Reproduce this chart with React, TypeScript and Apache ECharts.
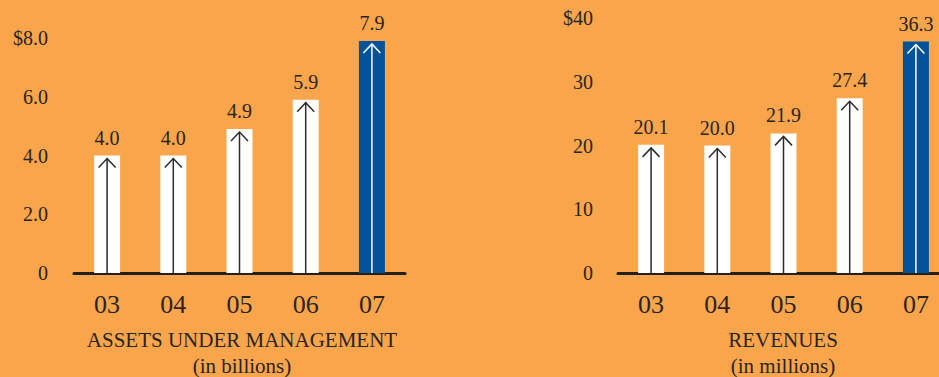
import React, { useEffect, useRef } from "react";
import * as echarts from "echarts";

const years = ["03", "04", "05", "06", "07"];
const assetsUnderManagement = [4.0, 4.0, 4.9, 5.9, 7.9];
const revenues = [20.1, 20.0, 21.9, 27.4, 36.3];
const highlightIndex = 4;

const BG = "#F9A54B";
const BLUE = "#03529A";
const INK = "#2A2421";
const FONT = "'Liberation Serif', 'Times New Roman', serif";

const barColor = (i: number) => (i === highlightIndex ? BLUE : "#FFFFFF");

// Arrow drawn up the middle of each bar, from the baseline to just below the top
const arrowRender = (params: any, api: any) => {
  const idx = api.value(0);
  const val = api.value(1);
  const base = api.coord([idx, 0]);
  const top = api.coord([idx, val]);
  const x = base[0];
  const tipY = top[1] + 3;
  const color = params.dataIndex === highlightIndex ? "#FFFFFF" : "#2B2B2B";
  return {
    type: "group",
    children: [
      {
        type: "line",
        shape: { x1: x, y1: base[1], x2: x, y2: tipY },
        style: { stroke: color, lineWidth: 1.5 },
      },
      {
        type: "polyline",
        shape: { points: [[x - 8.5, tipY + 9], [x, tipY], [x + 8.5, tipY + 9]] },
        style: { stroke: color, lineWidth: 1.5, fill: "none" },
      },
    ],
  };
};

export default function App() {
  const ref = useRef<HTMLDivElement>(null);

  useEffect(() => {
    if (!ref.current) return;
    const chart = echarts.init(ref.current, null, { renderer: "svg" });

    const xAxisBase = {
      type: "category" as const,
      data: years,
      axisLine: { show: true, lineStyle: { color: "#231F20", width: 3 } },
      axisTick: { show: false },
      axisLabel: { color: INK, fontFamily: FONT, fontSize: 26, margin: 18 },
    };
    const yAxisBase = {
      type: "value" as const,
      splitLine: { show: false },
      axisLine: { show: false },
      axisTick: { show: false },
    };

    const barSeries = (data: number[], axis: number, fmt: (v: number) => string) => ({
      type: "bar",
      xAxisIndex: axis,
      yAxisIndex: axis,
      barWidth: 26,
      data: data.map((v, i) => ({ value: v, itemStyle: { color: barColor(i) } })),
      label: {
        show: true,
        position: "top",
        distance: 8,
        color: INK,
        fontFamily: FONT,
        fontSize: 20,
        formatter: (p: any) => fmt(p.value),
      },
    });

    const arrowSeries = (data: number[], axis: number) => ({
      type: "custom",
      xAxisIndex: axis,
      yAxisIndex: axis,
      renderItem: arrowRender,
      data: data.map((v, i) => [i, v]),
      z: 5,
    });

    const titleText = (text: string, x: number, y: number) => ({
      type: "text",
      x,
      y,
      style: {
        text,
        fill: INK,
        font: `21px ${FONT}`,
        textAlign: "center",
        textVerticalAlign: "middle",
      },
    });

    chart.setOption({
      animation: false,
      backgroundColor: BG,
      grid: [
        { left: 74, top: 38, width: 331, height: 235 },
        // the revenue axis runs on past the right edge of the page
        { left: 618, top: 18, width: 331, height: 255 },
      ],
      xAxis: [
        { ...xAxisBase, gridIndex: 0 },
        { ...xAxisBase, gridIndex: 1 },
      ],
      yAxis: [
        {
          ...yAxisBase,
          gridIndex: 0,
          min: 0,
          max: 8,
          interval: 2,
          axisLabel: {
            color: INK,
            fontFamily: FONT,
            fontSize: 20,
            margin: 26,
            formatter: (v: number) => (v === 0 ? "0" : v === 8 ? "$8.0" : v.toFixed(1)),
          },
        },
        {
          ...yAxisBase,
          gridIndex: 1,
          min: 0,
          max: 40,
          interval: 10,
          axisLabel: {
            color: INK,
            fontFamily: FONT,
            fontSize: 20,
            margin: 25,
            formatter: (v: number) => (v === 40 ? "$40" : String(v)),
          },
        },
      ],
      series: [
        barSeries(assetsUnderManagement, 0, (v) => v.toFixed(1)),
        arrowSeries(assetsUnderManagement, 0),
        barSeries(revenues, 1, (v) => v.toFixed(1)),
        arrowSeries(revenues, 1),
      ],
      graphic: [
        titleText("ASSETS UNDER MANAGEMENT", 242, 340),
        titleText("(in billions)", 242, 366),
        titleText("REVENUES", 783, 340),
        titleText("(in millions)", 783, 366),
      ],
    });

    return () => chart.dispose();
  }, []);

  return (
    <div style={{ position: "fixed", left: 0, top: 0, width: 939, height: 377, overflow: "hidden" }}>
      <div ref={ref} style={{ width: 970, height: 377 }} />
    </div>
  );
}
